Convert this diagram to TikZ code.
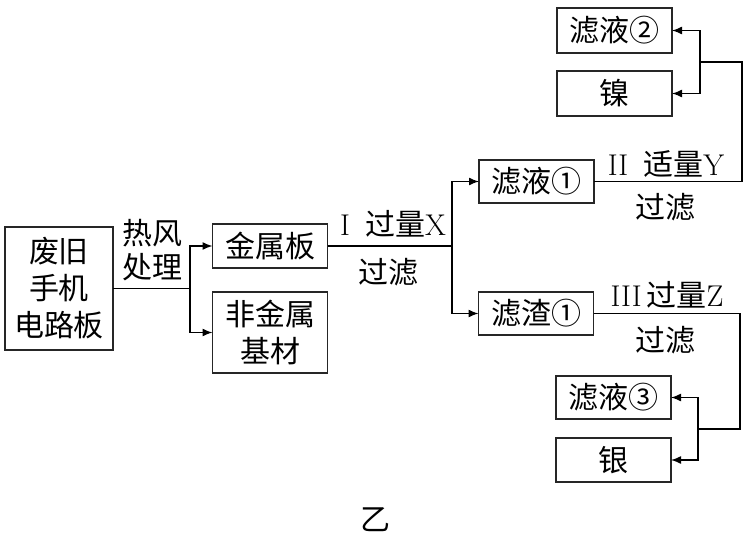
\documentclass[tikz,border=0pt]{standalone}
\usepackage{fontspec}
\newfontfamily\cjk{Noto Sans CJK SC}
\usetikzlibrary{arrows.meta,positioning}

\begin{document}
\begin{tikzpicture}[x=1pt,y=-1pt,inner sep=0,outer sep=0,line width=1.4pt,
  box/.style={draw=black!85,line width=1.4pt,minimum width=115pt,minimum height=44pt,font=\cjk\fontsize{30}{37}\selectfont,align=center},
  lbl/.style={font=\cjk\fontsize{30}{34}\selectfont,align=center},
  flow/.style={-{Latex[length=10pt,width=8pt]}}]

   \useasboundingbox (0,0) rectangle (748,533);

   % Boxes
   \node[box,minimum width=108pt,minimum height=123pt] (board) at (59,288.5) {废旧\\手机\\电路板};
   \node[box] (metal) at (270,246) {金属板};
   \node[box,minimum height=81pt] (nonmetal) at (270,332.5) {非金属\\基材};
   \node[box,minimum height=43pt] (filtA) at (536.5,181.5) {滤液①};
   \node[box,minimum height=43pt] (resA) at (536,313.5) {滤渣①};
   \node[box,minimum height=45pt] (filtB) at (614.5,30.5) {滤液②};
   \node[box,minimum height=45pt] (nickel) at (614.5,93.5) {镍};
   \node[box,minimum height=43pt] (filtC) at (613.5,397.5) {滤液③};
   \node[box] (silver) at (613.5,460) {银};

   % Junctions
   \coordinate (jHot) at (190,288.5);
   \coordinate (jX) at (452,246);
   \coordinate (cY) at (742,62);
   \coordinate (jY) at (700,62);
   \coordinate (cZ) at (740,429);
   \coordinate (jZ) at (698,429);

   % Hot air step
   \draw (board.east) -- (jHot);
   \draw[flow] (jHot) |- (metal.west);
   \draw[flow] (jHot) |- (nonmetal.west);
   \node[lbl] (hot) at (152,250) {热风\\处理};

   % Step I
   \draw (metal.east) -- (jX);
   \draw[flow] (jX) |- (filtA.west);
   \draw[flow] (jX) |- (resA.west);
   \node[lbl] (stepX) at (393,224) {{\rmfamily I}\enspace 过量{\rmfamily X}};
   \node[lbl] (filX) at (388,272) {过滤};

   % Step II
   \draw (filtA.east) -| (cY) -- (jY);
   \draw[flow] (jY) |- (filtB.east);
   \draw[flow] (jY) |- (nickel.east);
   \node[lbl] (stepY) at (666,164) {{\rmfamily II}\enspace 适量{\rmfamily Y}};
   \node[lbl] (filY) at (665,207) {过滤};

   % Step III
   \draw (resA.east) -| (cZ) -- (jZ);
   \draw[flow] (jZ) |- (filtC.east);
   \draw[flow] (jZ) |- (silver.east);
   \node[lbl] (stepZ) at (667,295) {{\rmfamily III}\,过量{\rmfamily Z}};
   \node[lbl] (filZ) at (665,340) {过滤};

   % Caption
   \node[lbl] (cap) at (375,520) {乙};

\end{tikzpicture}
\end{document}
